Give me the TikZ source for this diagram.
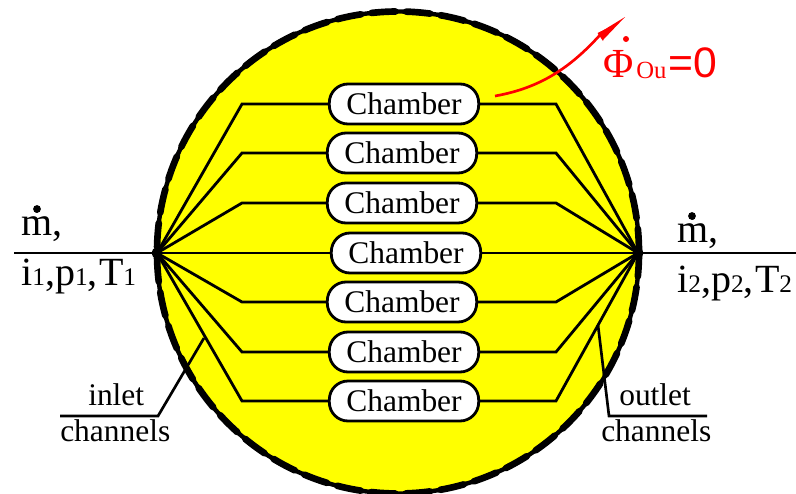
\documentclass[tikz,border=0pt]{standalone}
\usepackage{fontspec}
\setmainfont{Liberation Serif}
\newfontfamily\arialf{Liberation Sans}
\definecolor{pureyellow}{RGB}{255,255,0}
\definecolor{purered}{RGB}{255,0,0}
\newcommand{\fs}[1]{\fontsize{#1}{#1}\selectfont}
\newcommand{\sbs}[1]{{\fs{19}#1}}
\tikzset{
 wire/.style={line width=2.1pt,line join=miter},
 chamberbox/.style={draw=black,fill=white,line width=2.1pt,rounded corners=14pt,minimum width=112pt,minimum height=30pt,inner sep=0pt,font=\fs{23.6}},
 lbl/.style={anchor=base west,inner sep=0pt,font=\fs{30}},
 small/.style={anchor=base west,inner sep=0pt,font=\fs{23.6}},
 redl/.style={purered,anchor=base west,inner sep=0pt},
}
\begin{document}
\begin{tikzpicture}[x=0.75pt,y=-0.75pt]
\useasboundingbox (0,0) rectangle (796,493);
\fill[pureyellow] (398,252.5) circle[radius=241];
\draw[line width=3.3pt] (398,252.5) circle[radius=241];
\draw[line width=5pt,line cap=round,dash pattern=on 18pt off 8pt] (398,252.5) circle[radius=241];
\coordinate (L) at (157,253);
\coordinate (R) at (638,253);
\coordinate (LE) at (14,253);
\coordinate (RE) at (796,253);
\foreach \n/\cx/\cy in {a/404/104,b/402/153,c/402/203,d/406/253,e/402/302,f/404/352,g/404/401}{
  \coordinate (p\n l) at (242,\cy);
  \coordinate (p\n r) at (556,\cy);
  \node[chamberbox] (\n) at (\cx,\cy) {Chamber};
}
\foreach \n in {a,b,c,e,f,g}{
  \draw[wire] (L) -- (p\n l) -- (\n.west);
  \draw[wire] (\n.east) -- (p\n r) -- (R);
}
\draw[wire] (L) -- (d.west);
\draw[wire] (d.east) -- (R);
\draw[wire] (LE) -- (L);
\draw[wire] (R) -- (RE);
\fill (L) circle[radius=5.5];
\fill (R) circle[radius=5.5];
% labels
\node[lbl] (m1) at (21,235) {ṁ,};
\fill (37,209) circle[radius=3.9];
\node[lbl] (s1) at (21,285) {i\sbs{1},p\sbs{1},\kern1pt T\sbs{1}};
\node[lbl] (m2) at (677,242) {ṁ,};
\fill (692,216) circle[radius=3.9];
\node[lbl] (s2) at (677,292) {i\sbs{2},p\sbs{2},\kern1pt T\sbs{2}};
% leaders
\coordinate (ia) at (60,416);
\coordinate (ib) at (158,416);
\coordinate (ic) at (204,338);
\draw[line width=2pt] (ia) -- (ib) -- (ic);
\coordinate (oa) at (598,325);
\coordinate (ob) at (609,416);
\coordinate (oc) at (707,416);
\draw[line width=2pt] (oa) -- (ob) -- (oc);
\node[small] (il) at (88,405) {inlet};
\node[small] (ic2) at (60,441) {channels};
\node[small] (ol) at (619,405) {outlet};
\node[small] (oc2) at (601,441) {channels};
% red
\coordinate (ra) at (495,96);
\coordinate (rb) at (600,35);
\coordinate (rt) at (625,17);
\draw[purered,line width=2pt] (ra) .. controls (540,88) and (570,68) .. (rb);
\fill[purered] (rt) -- (603,40) -- (598,33.5) -- cycle;
\fill[purered] (597.5,33) -- (606,29) -- (603,41) -- cycle;
\node[redl,font=\fs{31}] (phi) at (603,77) {Φ};
\fill[purered] (626,39) circle[radius=3];
\node[redl,font=\fs{18.5}] (ou) at (636,78) {Ou};
\node[redl,font=\fs{32}\arialf] (eq) at (668,77) {=0};
\end{tikzpicture}
\end{document}
